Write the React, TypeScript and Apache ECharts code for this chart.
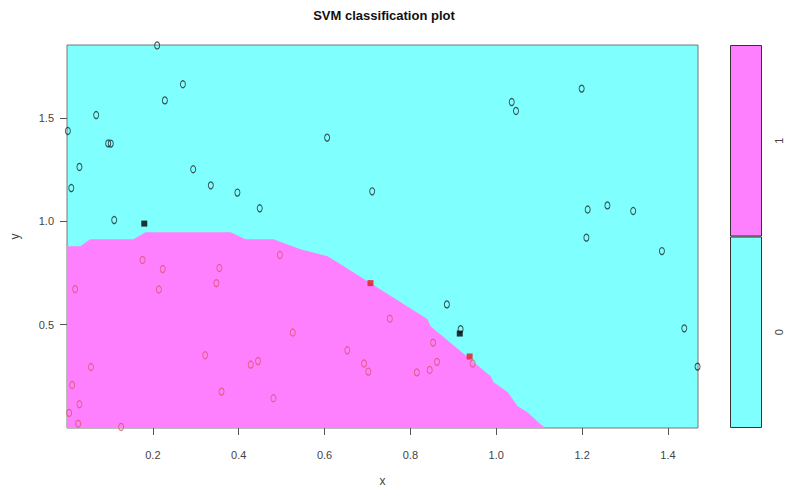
import React, { useEffect, useRef } from "react";
import * as echarts from "echarts";

// Data (data units)
const classLevels = ["0", "1"];
const xTicks = [0.2, 0.4, 0.6, 0.8, 1.0, 1.2, 1.4];
const yTicks = [0.5, 1.0, 1.5];

// Observations of class "0" (black)
const class0Points: number[][] = [
  [0.21, 1.851], [0.27, 1.663], [0.228, 1.585], [0.068, 1.514], [0.002, 1.437],
  [0.096, 1.377], [0.102, 1.376], [0.029, 1.263], [0.294, 1.252], [0.01, 1.161],
  [0.11, 1.006], [0.606, 1.405], [0.335, 1.174], [0.397, 1.139], [0.449, 1.063],
  [0.711, 1.145], [1.199, 1.642], [1.036, 1.577], [1.046, 1.534], [1.213, 1.057],
  [1.259, 1.077], [1.319, 1.05], [1.21, 0.921], [1.386, 0.856], [0.885, 0.598],
  [1.438, 0.482], [1.469, 0.297], [0.917, 0.478],
];

// Observations of class "1" (red)
const class1Points: number[][] = [
  [0.176, 0.813], [0.223, 0.769], [0.355, 0.774], [0.019, 0.672], [0.214, 0.67],
  [0.348, 0.701], [0.322, 0.352], [0.056, 0.295], [0.428, 0.307], [0.445, 0.324],
  [0.012, 0.208], [0.36, 0.176], [0.029, 0.115], [0.005, 0.073], [0.026, 0.021],
  [0.126, 0.005], [0.496, 0.837], [0.752, 0.529], [0.526, 0.462], [0.653, 0.376],
  [0.692, 0.312], [0.702, 0.273], [0.481, 0.144], [0.853, 0.413], [0.862, 0.32],
  [0.845, 0.281], [0.815, 0.269], [0.945, 0.312],
];

// Support vectors
const sv0Points: number[][] = [[0.18, 0.989], [0.915, 0.457]];
const sv1Points: number[][] = [[0.707, 0.701], [0.938, 0.346]];

// Decision boundary (upper edge of the class "1" region)
const boundaryPoints: number[][] = [
  [0, 0.879], [0.031, 0.879], [0.054, 0.913], [0.155, 0.913], [0.183, 0.947],
  [0.381, 0.947], [0.416, 0.913], [0.481, 0.913], [0.544, 0.865], [0.607, 0.831],
  [0.63, 0.802], [0.84, 0.526], [0.847, 0.492], [0.987, 0.25], [0.994, 0.221],
  [1.027, 0.173], [1.05, 0.105], [1.073, 0.076], [1.103, 0.018], [1.115, 0],
];

const CYAN = "#80FFFF";
const MAGENTA = "#FF80FF";
const BLACK = "#1e2a2a";
const RED = "#DF536B";

export default function App() {
  const ref = useRef<HTMLDivElement>(null);
  useEffect(() => {
    document.body.style.margin = "0";
    const chart = echarts.init(ref.current!, null, { renderer: "svg" });
    const font = "Liberation Sans";
    const oSymbol = (color: string) => ({
      symbol: "circle",
      symbolSize: [5, 7],
      itemStyle: { color: "rgba(0,0,0,0)", borderColor: color, borderWidth: 1.1 },
    });
    chart.setOption({
      animation: false,
      backgroundColor: "#ffffff",
      textStyle: { fontFamily: font },
      graphic: [
        {
          type: "text",
          x: 384,
          y: 15,
          style: {
            text: "SVM classification plot",
            textAlign: "center",
            textVerticalAlign: "middle",
            font: `bold 13px ${font}`,
            fill: "#111",
          },
        },
      ],
      grid: [
        {
          left: 67,
          top: 45,
          width: 631,
          height: 383,
          show: true,
          backgroundColor: CYAN,
          borderColor: "#777",
          borderWidth: 1,
          outerBoundsMode: "none",
          containLabel: false,
          z: 0,
        },
        {
          left: 730,
          top: 45,
          width: 32,
          height: 383,
          show: false,
          outerBoundsMode: "none",
          containLabel: false,
        },
      ],
      xAxis: [
        {
          gridIndex: 0,
          type: "value",
          min: 0,
          max: 1.47,
          name: "x",
          nameLocation: "middle",
          nameGap: 47,
          nameTextStyle: { color: "#444", fontSize: 12, fontFamily: font },
          axisLine: { show: false },
          splitLine: { show: false },
          axisTick: {
            show: true,
            inside: false,
            length: 7,
            customValues: xTicks,
            lineStyle: { color: "#555" },
          },
          axisLabel: {
            customValues: xTicks,
            color: "#444",
            fontSize: 11,
            margin: 21,
            formatter: (v: number) => v.toFixed(1),
          },
        },
        {
          gridIndex: 1,
          type: "value",
          min: 0,
          max: 1,
          show: false,
        },
      ],
      yAxis: [
        {
          gridIndex: 0,
          type: "value",
          min: 0,
          max: 1.853,
          name: "y",
          nameLocation: "middle",
          nameGap: 46,
          nameRotate: 90,
          nameTextStyle: { color: "#444", fontSize: 12, fontFamily: font },
          axisLine: { show: false },
          splitLine: { show: false },
          axisTick: {
            show: true,
            length: 7,
            customValues: yTicks,
            lineStyle: { color: "#555" },
          },
          axisLabel: {
            customValues: yTicks,
            color: "#444",
            fontSize: 11,
            margin: 13,
            formatter: (v: number) => v.toFixed(1),
          },
        },
        {
          gridIndex: 1,
          type: "category",
          data: classLevels,
          position: "right",
          axisLine: { show: false },
          axisTick: { show: true, length: 6, alignWithLabel: true, lineStyle: { color: "#555" } },
          axisLabel: { color: "#444", fontSize: 11, rotate: 90, margin: 11 },
          splitLine: { show: false },
        },
      ],
      series: [
        {
          type: "line",
          xAxisIndex: 0,
          yAxisIndex: 0,
          data: boundaryPoints,
          showSymbol: false,
          symbol: "none",
          lineStyle: { width: 0, color: MAGENTA },
          areaStyle: { color: MAGENTA, opacity: 1, origin: "start" },
          z: 1,
          silent: true,
        },
        {
          type: "scatter",
          xAxisIndex: 0,
          yAxisIndex: 0,
          data: class0Points,
          ...oSymbol(BLACK),
          z: 3,
        },
        {
          type: "scatter",
          xAxisIndex: 0,
          yAxisIndex: 0,
          data: class1Points,
          ...oSymbol(RED),
          z: 3,
        },
        {
          type: "scatter",
          xAxisIndex: 0,
          yAxisIndex: 0,
          data: sv0Points,
          symbol: "rect",
          symbolSize: 6,
          itemStyle: { color: "#000" },
          z: 4,
        },
        {
          type: "scatter",
          xAxisIndex: 0,
          yAxisIndex: 0,
          data: sv1Points,
          symbol: "rect",
          symbolSize: 6,
          itemStyle: { color: "#e8141e" },
          z: 4,
        },
        {
          type: "bar",
          xAxisIndex: 1,
          yAxisIndex: 1,
          barWidth: "100%",
          barCategoryGap: 0,
          data: [
            { value: 1, itemStyle: { color: CYAN } },
            { value: 1, itemStyle: { color: MAGENTA } },
          ],
          itemStyle: { borderColor: "#333", borderWidth: 1 },
        },
      ],
    });
    return () => chart.dispose();
  }, []);
  return <div ref={ref} style={{ width: 787, height: 488 }} />;
}
